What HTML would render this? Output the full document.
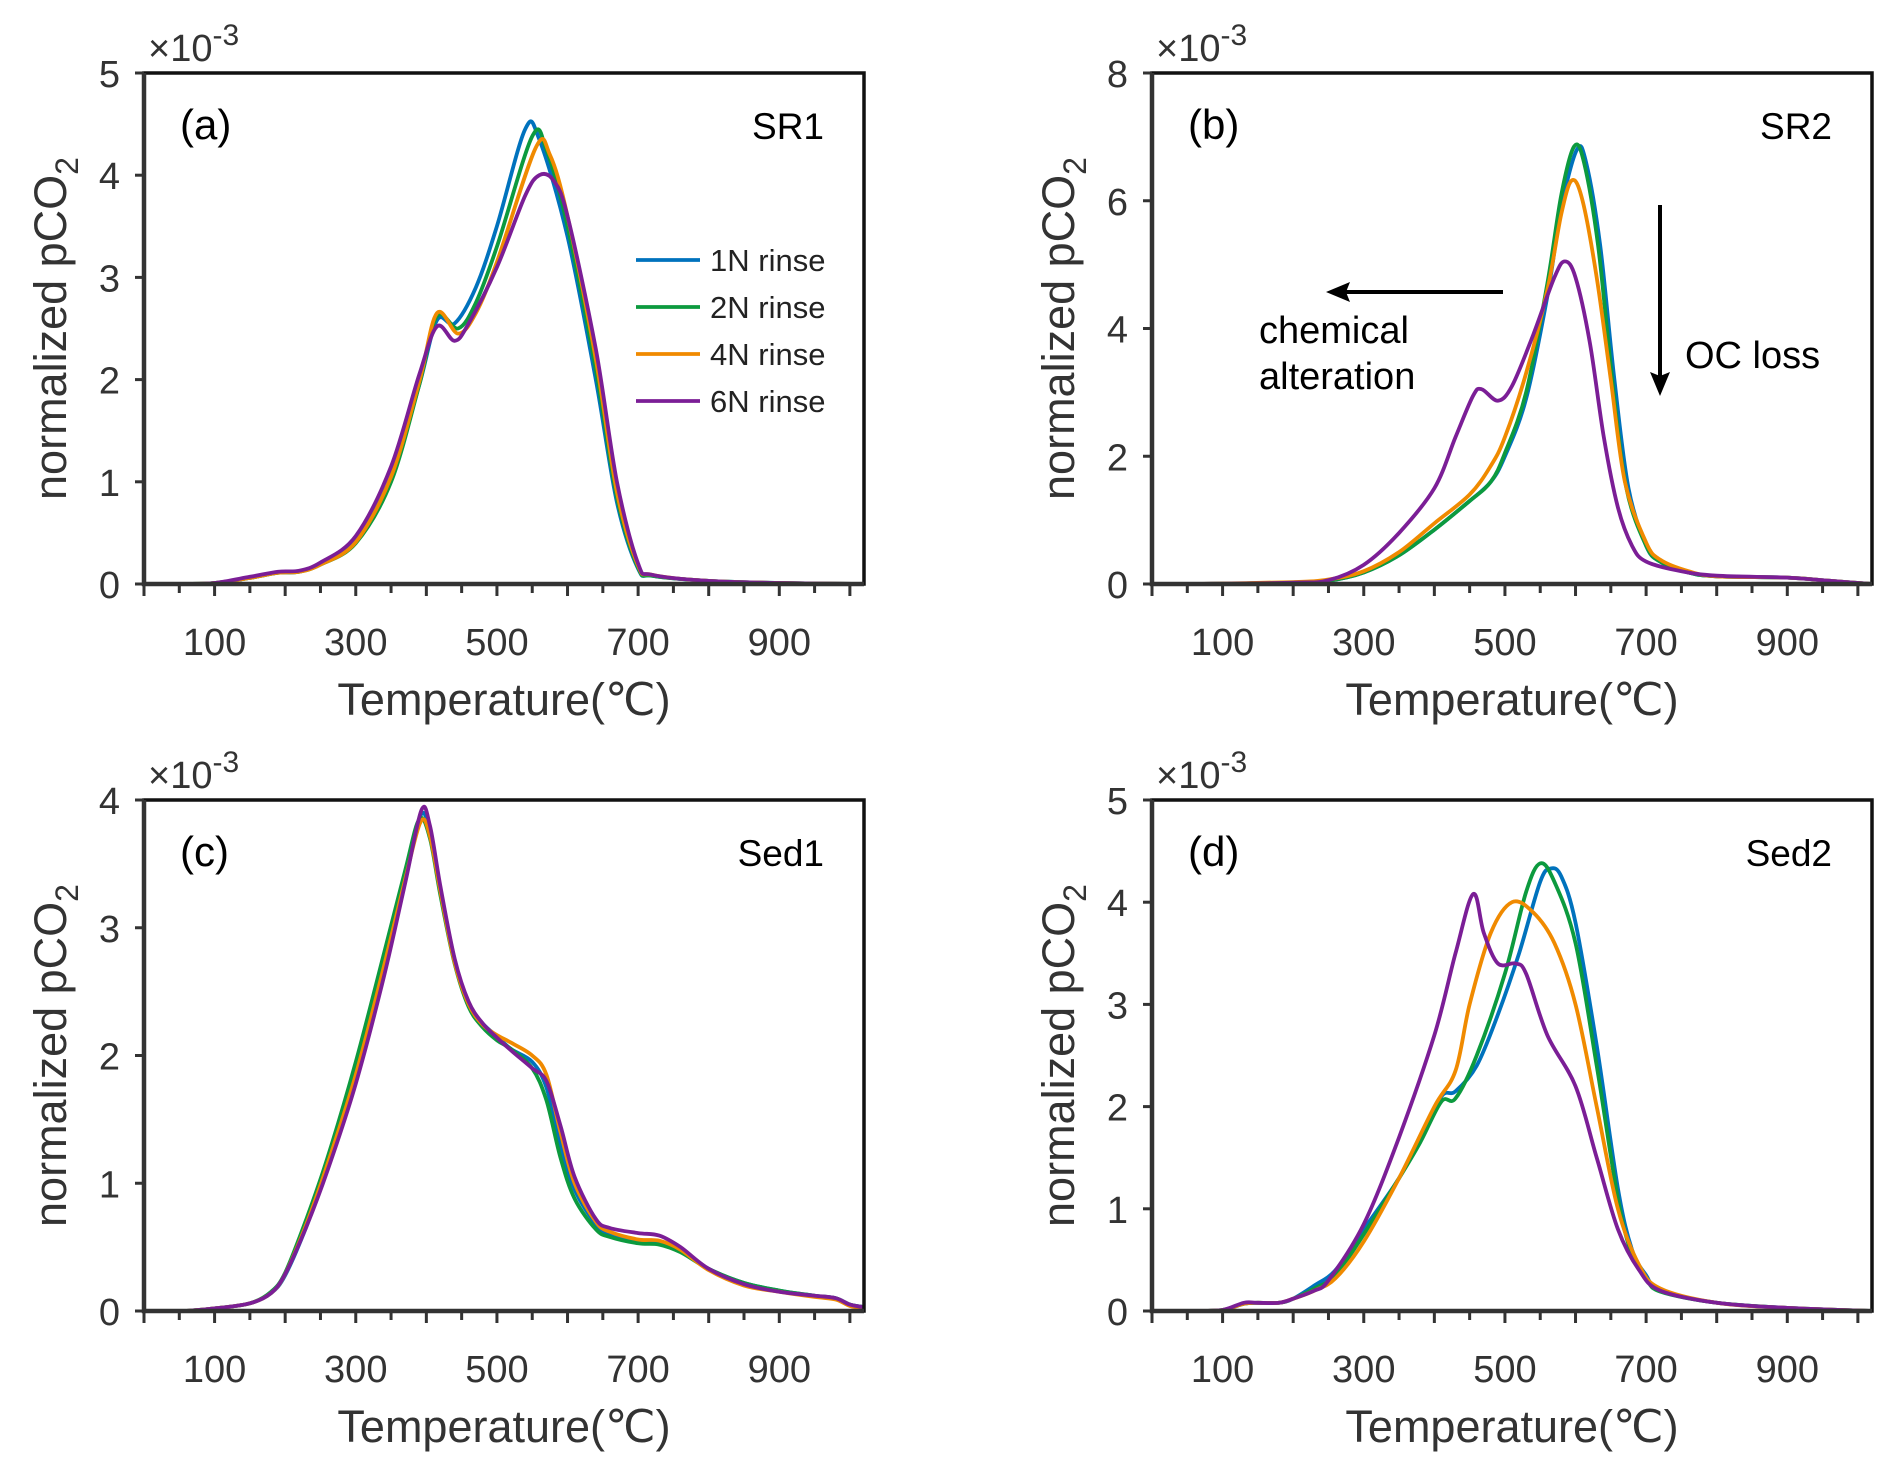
<!DOCTYPE html>
<html><head><meta charset="utf-8"><style>
html,body{margin:0;padding:0;background:#fff;}
svg{display:block;font-family:"Liberation Sans",Arial,sans-serif;}
</style></head><body>
<svg id="fig" width="1892" height="1468" viewBox="0 0 1892 1468" xmlns="http://www.w3.org/2000/svg"></svg>
<script>
// shared x data range
const xTickLabels = [100, 300, 500, 700, 900];
const seriesNames = ["1N rinse", "2N rinse", "4N rinse", "6N rinse"];
const seriesColors = ["#0072BD", "#0C9A3E", "#F08A00", "#7B1E96"];

// Panel (a) SR1
const aX1 = [60,100,150,190,220,250,300,350,390,415,440,470,500,540,560,600,640,670,700,720,800,900,1020];
const aY1 = [0,0.01,0.06,0.11,0.12,0.2,0.42,1.05,1.95,2.58,2.55,2.9,3.5,4.45,4.35,3.4,2.0,0.8,0.15,0.08,0.03,0.01,0];
const aX2 = [60,100,150,190,220,250,300,350,390,415,445,470,500,550,570,600,640,670,700,720,800,900,1020];
const aY2 = [0,0.01,0.06,0.11,0.12,0.19,0.4,1.0,1.95,2.62,2.5,2.75,3.3,4.38,4.25,3.5,2.1,0.85,0.16,0.08,0.03,0.01,0];
const aX3 = [60,100,150,190,220,250,300,350,390,415,445,470,500,555,575,600,640,670,700,720,800,900,1020];
const aY3 = [0,0.01,0.06,0.11,0.12,0.19,0.41,1.05,1.98,2.65,2.45,2.65,3.15,4.27,4.2,3.6,2.2,0.9,0.18,0.09,0.03,0.01,0];
const aX4 = [60,100,150,190,220,250,300,350,390,415,440,460,500,540,560,580,600,640,670,700,720,800,900,1020];
const aY4 = [0,0.01,0.07,0.12,0.13,0.21,0.47,1.15,2.05,2.52,2.38,2.55,3.1,3.8,4.0,3.95,3.6,2.3,1.0,0.2,0.09,0.03,0.01,0];

// Panel (b) SR2
const bX1 = [60,200,250,300,350,400,450,480,500,530,560,580,602,615,635,655,675,700,720,760,800,900,960,1020];
const bY1 = [0,0.02,0.05,0.18,0.45,0.85,1.3,1.6,2.0,2.9,4.5,5.9,6.8,6.6,5.3,3.2,1.5,0.6,0.35,0.18,0.12,0.1,0.05,0];
const bX2 = [60,200,250,300,350,400,450,480,500,530,560,580,598,612,632,652,672,700,720,760,800,900,960,1020];
const bY2 = [0,0.02,0.05,0.18,0.45,0.85,1.3,1.6,2.05,3.0,4.7,6.1,6.85,6.6,5.3,3.2,1.5,0.6,0.35,0.18,0.12,0.1,0.05,0];
const bX3 = [60,200,250,300,350,400,450,480,500,530,560,580,595,610,630,650,670,700,720,760,800,900,960,1020];
const bY3 = [0,0.03,0.07,0.2,0.5,0.95,1.4,1.85,2.3,3.3,4.6,5.8,6.32,6.0,4.8,3.2,1.6,0.65,0.38,0.2,0.12,0.1,0.05,0];
const bX4 = [60,200,250,300,350,400,430,455,467,490,510,540,570,585,600,620,640,660,680,700,750,800,900,960,1020];
const bY4 = [0,0.02,0.06,0.3,0.8,1.5,2.3,2.95,3.05,2.87,3.1,3.9,4.8,5.05,4.8,3.8,2.3,1.2,0.6,0.35,0.2,0.13,0.1,0.05,0];

// Panel (c) Sed1
const cX1 = [60,100,150,180,200,230,260,300,340,370,392,405,420,440,460,480,500,520,550,570,590,610,640,660,700,730,760,800,850,900,950,980,1000,1020];
const cY1 = [0,0.02,0.06,0.14,0.28,0.66,1.12,1.82,2.68,3.38,3.88,3.75,3.3,2.75,2.4,2.25,2.15,2.05,1.95,1.75,1.3,0.95,0.68,0.6,0.55,0.54,0.47,0.33,0.22,0.16,0.12,0.1,0.05,0.03];
const cX2 = [60,100,150,180,200,230,260,300,340,370,390,405,420,440,460,480,500,520,550,570,590,610,640,660,700,730,760,800,850,900,950,980,1000,1020];
const cY2 = [0,0.02,0.06,0.15,0.3,0.72,1.2,1.95,2.8,3.45,3.85,3.7,3.25,2.72,2.38,2.22,2.12,2.05,1.9,1.65,1.2,0.88,0.64,0.58,0.53,0.52,0.46,0.33,0.22,0.16,0.12,0.1,0.05,0.03];
const cX3 = [60,100,150,180,200,230,260,300,340,370,392,405,420,440,460,480,500,520,550,570,590,610,640,660,700,730,760,800,850,900,950,980,1000,1020];
const cY3 = [0,0.02,0.06,0.14,0.29,0.68,1.15,1.85,2.7,3.38,3.83,3.72,3.28,2.73,2.4,2.24,2.16,2.1,2.0,1.85,1.4,1.0,0.7,0.62,0.56,0.55,0.48,0.32,0.2,0.15,0.11,0.09,0.04,0.02];
const cX4 = [60,100,150,180,200,230,260,300,340,370,393,405,420,440,460,480,500,520,550,570,590,610,640,660,700,730,760,800,850,900,950,980,1000,1020];
const cY4 = [0,0.02,0.06,0.14,0.29,0.66,1.1,1.78,2.62,3.35,3.92,3.8,3.32,2.76,2.42,2.25,2.14,2.04,1.9,1.8,1.45,1.05,0.72,0.65,0.61,0.59,0.5,0.33,0.21,0.15,0.12,0.1,0.05,0.03];

// Panel (d) Sed2
const dX1 = [60,100,130,150,180,200,230,260,300,350,380,410,430,460,490,520,550,565,580,600,630,660,680,700,720,800,900,1020];
const dY1 = [0,0.01,0.07,0.08,0.08,0.12,0.25,0.4,0.8,1.3,1.7,2.1,2.15,2.4,2.9,3.5,4.2,4.33,4.25,3.8,2.6,1.2,0.6,0.35,0.2,0.08,0.03,0];
const dX2 = [60,100,130,150,180,200,230,260,300,350,380,410,430,460,500,530,550,570,600,630,660,680,700,720,800,900,1020];
const dY2 = [0,0.01,0.07,0.08,0.08,0.12,0.22,0.35,0.75,1.3,1.65,2.05,2.08,2.5,3.3,4.1,4.38,4.2,3.6,2.4,1.1,0.55,0.32,0.19,0.08,0.03,0];
const dX3 = [60,100,130,150,180,200,230,260,300,350,400,430,450,480,510,540,570,600,630,660,690,720,800,900,1020];
const dY3 = [0,0.01,0.07,0.08,0.08,0.12,0.2,0.32,0.68,1.3,2.0,2.35,3.0,3.7,4.0,3.9,3.6,3.0,2.0,1.0,0.45,0.22,0.08,0.03,0];
const dX4 = [60,100,130,150,180,200,230,250,300,350,400,430,455,470,490,515,530,560,600,630,660,690,720,800,900,1020];
const dY4 = [0,0.01,0.08,0.08,0.08,0.12,0.2,0.3,0.85,1.7,2.7,3.5,4.08,3.7,3.4,3.4,3.3,2.7,2.2,1.5,0.8,0.4,0.2,0.08,0.03,0];

const NS = "http://www.w3.org/2000/svg";
const svg = document.getElementById('fig');
function mk(tag, attrs, parent){const e=document.createElementNS(NS,tag);for(const k in attrs)e.setAttribute(k,attrs[k]);(parent||svg).appendChild(e);return e;}

function smoothPath(pts){
  let d = "M" + pts[0][0].toFixed(1) + "," + pts[0][1].toFixed(1);
  for(let i=0;i<pts.length-1;i++){
    const p0=pts[Math.max(0,i-1)], p1=pts[i], p2=pts[i+1], p3=pts[Math.min(pts.length-1,i+2)];
    const c1x=p1[0]+(p2[0]-p0[0])/6, c1y=p1[1]+(p2[1]-p0[1])/6;
    const c2x=p2[0]-(p3[0]-p1[0])/6, c2y=p2[1]-(p3[1]-p1[1])/6;
    d += " C"+c1x.toFixed(1)+","+c1y.toFixed(1)+" "+c2x.toFixed(1)+","+c2y.toFixed(1)+" "+p2[0].toFixed(1)+","+p2[1].toFixed(1);
  }
  return d;
}

function panel(cfg){
  const L=cfg.left, R=cfg.left+720, T=cfg.top, B=cfg.top+511;
  const xs = v => L + (v/1020)*(R-L);
  const ys = v => B - (v/cfg.ymax)*(B-T);
  const g = mk('g',{});
  
  
  cfg.series.forEach((s,i)=>{
    const pts = s[0].map((x,j)=>[xs(x), ys(s[1][j])]);
    const p = mk('path',{d:smoothPath(pts),fill:'none',stroke:seriesColors[i],'stroke-width':3.8,'stroke-linejoin':'round'},g);
    
    
  });
  const fr = mk('rect',{x:L,y:T,width:R-L,height:B-T,fill:'none',stroke:'#111','stroke-width':3.5},g);
  
  
  const ax = mk('path',{d:`M${L},${T} L${L},${B} L${R},${B}`,fill:'none',stroke:'#333','stroke-width':4.5},g);
  
  
  for(let v=0; v<=1000; v+=50){
    const t = mk('line',{x1:xs(v),x2:xs(v),y1:B,y2:B+(v%100===0?12:9),stroke:'#333','stroke-width':3},g);
    
    
  }
  xTickLabels.forEach(v=>{
    const t = mk('text',{x:xs(v),y:B+71,'font-size':38,'text-anchor':'middle',fill:'#333'},g);
    t.textContent = v;
    
    
  });
  for(let v=0; v<=cfg.ymax; v+=cfg.ystep){
    const t = mk('line',{x1:L-9,x2:L,y1:ys(v),y2:ys(v),stroke:'#333','stroke-width':3},g);
    
    
    const lb = mk('text',{x:L-24,y:ys(v)+14,'font-size':38,'text-anchor':'end',fill:'#333'},g);
    lb.textContent = v;
    
    
  }
  const ex = mk('text',{x:L+4,y:T-12,'font-size':38,fill:'#333'},g);
  ex.innerHTML = '×10<tspan dy="-16" font-size="30">-3</tspan>';
  
  
  const xt = mk('text',{x:(L+R)/2,y:B+131,'font-size':45,'text-anchor':'middle',fill:'#333'},g);
  xt.textContent = 'Temperature(℃)';
  
  
  const yt = mk('text',{x:0,y:0,'font-size':45,'text-anchor':'middle',fill:'#333',transform:`translate(${L-78},${(T+B)/2}) rotate(-90)`},g);
  yt.innerHTML = 'normalized pCO<tspan dy="12" font-size="32">2</tspan>';
  
  
  const pl = mk('text',{x:L+36,y:T+66,'font-size':42,fill:'#000'},g);
  pl.textContent = '('+cfg.id+')';
  
  
  const sl = mk('text',{x:R-40,y:T+66,'font-size':37,'text-anchor':'end',fill:'#000'},g);
  sl.textContent = cfg.sample;
  
  
  return {L,R,T,B,g};
}

const pa = panel({id:'a',sample:'SR1',left:144,top:73,ymax:5,ystep:1,series:[[aX1,aY1],[aX2,aY2],[aX3,aY3],[aX4,aY4]]});
const pb = panel({id:'b',sample:'SR2',left:1152,top:73,ymax:8,ystep:2,series:[[bX1,bY1],[bX2,bY2],[bX3,bY3],[bX4,bY4]]});
const pc = panel({id:'c',sample:'Sed1',left:144,top:800,ymax:4,ystep:1,series:[[cX1,cY1],[cX2,cY2],[cX3,cY3],[cX4,cY4]]});
const pd = panel({id:'d',sample:'Sed2',left:1152,top:800,ymax:5,ystep:1,series:[[dX1,dY1],[dX2,dY2],[dX3,dY3],[dX4,dY4]]});

const leg = mk('g',{});


seriesNames.forEach((n,i)=>{
  const y = 260 + i*47;
  const ln = mk('line',{x1:636,x2:700,y1:y,y2:y,stroke:seriesColors[i],'stroke-width':3.8},leg);
  
  
  const t = mk('text',{x:710,y:y+11,'font-size':31,fill:'#222'},leg);
  t.textContent = n;
  
  
});

const ann = mk('g',{});


const ha = mk('path',{d:'M1503,292 L1345,292',stroke:'#000','stroke-width':4,fill:'none'},ann);


const hh = mk('path',{d:'M1326,292 L1350,282 L1346,292 L1350,302 Z',fill:'#000'},ann);


const va = mk('path',{d:'M1660,205 L1660,378',stroke:'#000','stroke-width':4,fill:'none'},ann);


const vh = mk('path',{d:'M1660,396 L1650,372 L1660,376 L1670,372 Z',fill:'#000'},ann);


const t1 = mk('text',{x:1259,y:343,'font-size':38,fill:'#000'},ann);
t1.textContent = 'chemical';


const t2 = mk('text',{x:1259,y:389,'font-size':38,fill:'#000'},ann);
t2.textContent = 'alteration';


const t3 = mk('text',{x:1685,y:368,'font-size':38,fill:'#000'},ann);
t3.textContent = 'OC loss';


</script>
</body></html>
